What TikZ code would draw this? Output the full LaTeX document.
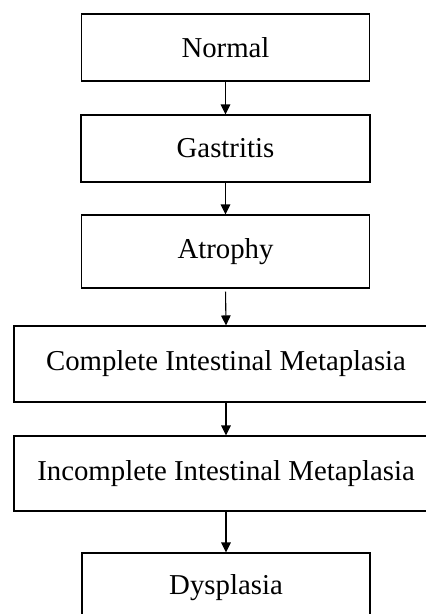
\documentclass[tikz,border=0pt]{standalone}
\usepackage{fontspec}
\setmainfont{Liberation Serif}
\usetikzlibrary{arrows.meta}
\tikzset{
  stagebox/.style={draw=black, line width=1.1pt, rectangle, inner sep=0pt, anchor=center,
    font=\fontsize{28.8}{32}\selectfont},
  flowarrow/.style={draw=black, line width=1.1pt, -{Triangle[width=9.5pt,length=10pt]}}
}
\begin{document}
\begin{tikzpicture}[x=1pt,y=-1pt]
\useasboundingbox (0,0) rectangle (426,614);
\fill[white] (0,0) rectangle (426,614);
\clip (0,0) rectangle (426,614);
\node[stagebox, minimum width=288pt, minimum height=67pt] (normal) at (225.5,47.5) {Normal};
\node[stagebox, minimum width=289pt, minimum height=67pt] (gastritis) at (225.5,148.5) {Gastritis};
\node[stagebox, minimum width=288pt, minimum height=73pt] (atrophy) at (225.5,251.5) {Atrophy};
\node[stagebox, minimum width=424pt, minimum height=76pt] (complete) at (226,364) {Complete Intestinal Metaplasia};
\node[stagebox, minimum width=424pt, minimum height=75pt] (incomplete) at (226,473.5) {Incomplete Intestinal Metaplasia};
\node[stagebox, minimum width=288pt, minimum height=70pt] (dysplasia) at (226,588) {Dysplasia};
\draw[flowarrow] (normal.south) -- (gastritis.north);
\draw[flowarrow] (gastritis.south) -- (atrophy.north);
\draw[flowarrow, shorten <=3pt] (atrophy.south) -- (complete.north);
\draw[flowarrow] (complete.south) -- (incomplete.north);
\draw[flowarrow] (incomplete.south) -- (dysplasia.north);
\end{tikzpicture}
\end{document}
